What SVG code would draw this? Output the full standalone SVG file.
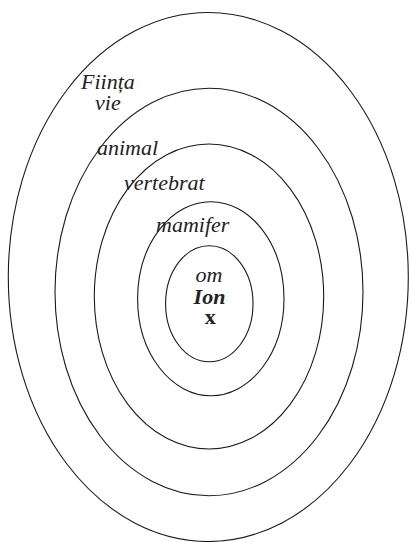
<svg xmlns="http://www.w3.org/2000/svg" width="410" height="542" viewBox="0 0 410 542">
<style>
.ring{fill:none;stroke:#1a1a1a;stroke-width:1.1}
.lbl{font-family:"Liberation Serif","Times New Roman",serif;font-size:22px;font-style:italic;fill:#222}
.b{font-weight:bold}
.up{font-style:normal}
</style>
<rect width="410" height="542" fill="#fff"/>
<g id="fiinta-vie">
<ellipse class="ring" cx="208.3" cy="277" rx="200" ry="264.5"/>
<text class="lbl" x="81" y="89">Ființa</text>
<text class="lbl" x="95" y="110">vie</text>
</g>
<g id="animal">
<ellipse class="ring" cx="209" cy="292" rx="154" ry="203.7"/>
<text class="lbl" x="97" y="154.5">animal</text>
</g>
<g id="vertebrat">
<ellipse class="ring" cx="209" cy="296.5" rx="114.7" ry="152.5"/>
<text class="lbl" x="124" y="190">vertebrat</text>
</g>
<g id="mamifer">
<ellipse class="ring" cx="210.8" cy="298.7" rx="73.2" ry="97"/>
<text class="lbl" x="156" y="231.5">mamifer</text>
</g>
<g id="om">
<ellipse class="ring" cx="209.3" cy="303.7" rx="43.7" ry="58"/>
<text class="lbl" x="209" y="282.3" text-anchor="middle">om</text>
<text class="lbl b" x="209.5" y="304" text-anchor="middle">Ion</text>
<text class="lbl b up" x="210.3" y="324.3" text-anchor="middle">x</text>
</g>
<g id="connectors"></g>
</svg>
